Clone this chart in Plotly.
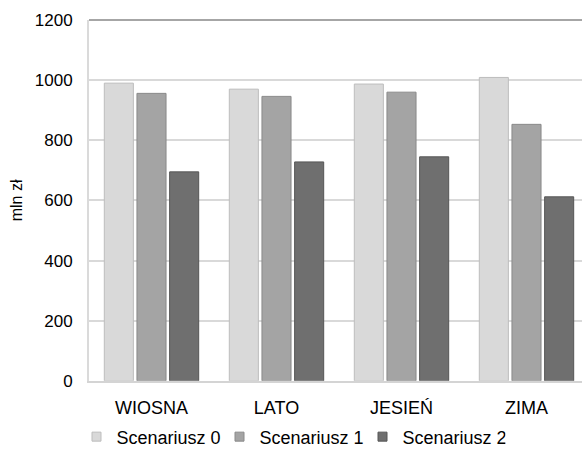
import plotly.graph_objects as go

categories = ["WIOSNA", "LATO", "JESIEŃ", "ZIMA"]
series_names = ["Scenariusz 0", "Scenariusz 1", "Scenariusz 2"]
scenariusz_0 = [990, 970, 987, 1009]
scenariusz_1 = [956, 946, 960, 853]
scenariusz_2 = [695, 728, 745, 612]
y_ticks = [0, 200, 400, 600, 800, 1000, 1200]

fills = ["#d9d9d9", "#a4a4a4", "#6f6f6f"]
outlines = ["#bdbdbd", "#8a8a8a", "#565656"]

fig = go.Figure()
for name, vals, fc, lc in zip(series_names, [scenariusz_0, scenariusz_1, scenariusz_2], fills, outlines):
    fig.add_trace(go.Bar(
        x=categories, y=vals, name=name, showlegend=False,
        marker=dict(color=fc, line=dict(color=lc, width=1)),
    ))
# legend-only entries with small square keys
for name, fc, lc in zip(series_names, fills, outlines):
    fig.add_trace(go.Scatter(
        x=[None], y=[None], mode="markers", name=name,
        marker=dict(symbol="square", size=9, color=fc, line=dict(color=lc, width=1)),
    ))

font_family = "Liberation Sans, Arial, sans-serif"
fig.update_layout(
    width=582, height=450,
    margin=dict(l=89, r=0, t=20, b=68),
    paper_bgcolor="white", plot_bgcolor="white",
    barmode="group", bargap=0.216, bargroupgap=0.11,
    font=dict(family=font_family, size=16, color="black"),
    showlegend=True,
    legend=dict(orientation="h", xref="container", yref="container",
                x=0.5, xanchor="center", y=0.029, yanchor="middle",
                font=dict(size=18), itemwidth=30, entrywidth=98,
                bgcolor="rgba(0,0,0,0)"),
    xaxis=dict(range=[-0.5, 3.444], showgrid=False, showline=True,
               linecolor="#d4d4d4", linewidth=2, ticks="",
               tickfont=dict(size=18), ticklabelstandoff=10),
    yaxis=dict(range=[0, 1200], tickvals=y_ticks, showgrid=True,
               gridcolor="#d9d9d9", gridwidth=2, zeroline=False,
               showline=True, linecolor="#dadada", linewidth=2,
               ticks="", tickfont=dict(size=17), ticklabelstandoff=11,
               title=dict(text="mln zł", font=dict(size=16), standoff=8)),
    shapes=[dict(type="line", xref="paper", yref="paper", x0=0, x1=1, y0=1, y1=1,
                 line=dict(color="#a6a6a6", width=2))],
)

fig.write_html("out.html", config={"displayModeBar": False},
               post_script="document.body.style.margin='0';")
